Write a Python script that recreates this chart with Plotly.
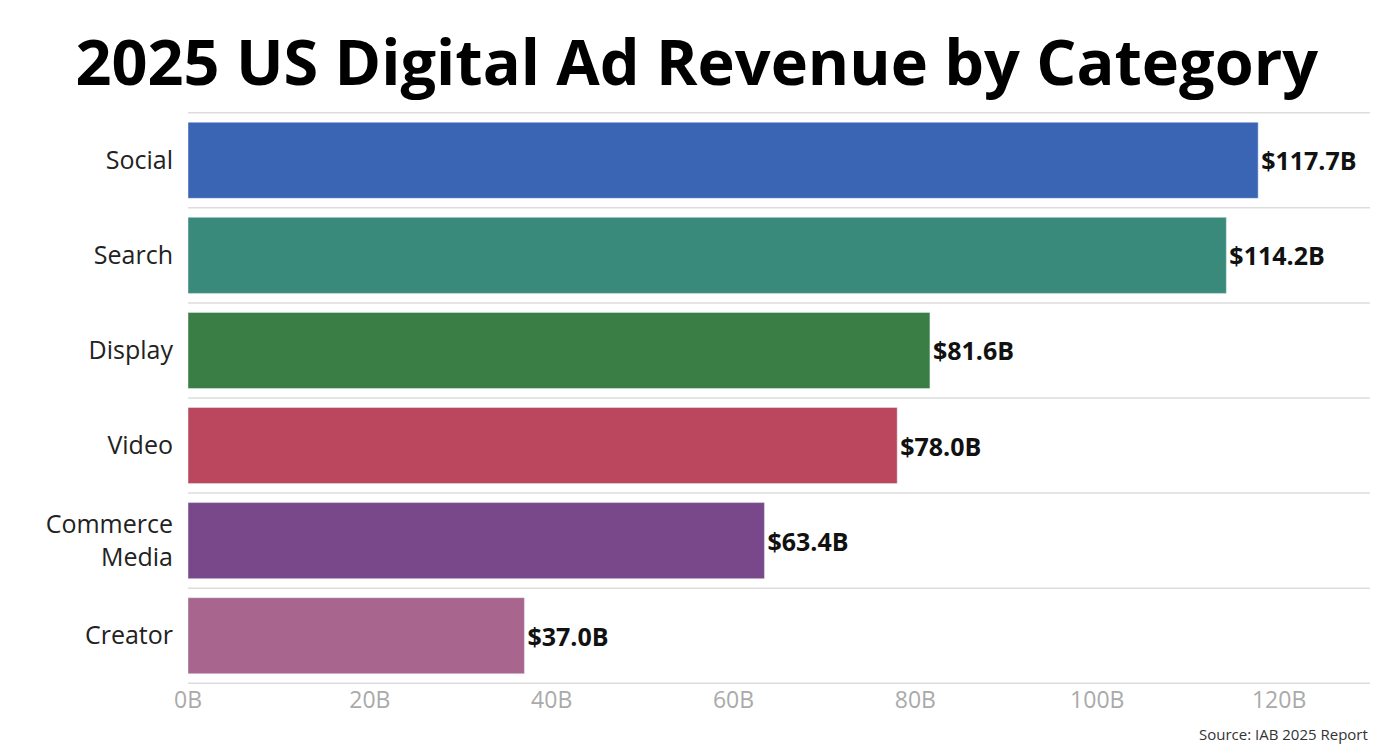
import plotly.graph_objects as go

categories = ["Social", "Search", "Display", "Video", "Commerce<br>Media", "Creator"]
values = [117.7, 114.2, 81.6, 78.0, 63.4, 37.0]
labels = ["$117.7B", "$114.2B", "$81.6B", "$78.0B", "$63.4B", "$37.0B"]
colors = ["#3A65B4", "#3A8A7B", "#3A7E45", "#BB475E", "#78488A", "#A8658E"]
tick_vals = [0, 20, 40, 60, 80, 100, 120]
tick_text = ["0B", "20B", "40B", "60B", "80B", "100B", "120B"]

fig = go.Figure(go.Bar(
    y=categories, x=values, orientation="h", marker_color=colors,
    text=labels, textposition="outside", cliponaxis=False,
    textfont=dict(family="Open Sans", size=25, color="#111"),
    texttemplate="<b>%{text}</b>",
))
shapes = [dict(type="line", xref="paper", yref="y", x0=0, x1=1, y0=i - 0.5, y1=i - 0.5,
               line=dict(color="#dddddd", width=1.5), layer="below") for i in range(len(categories) + 1)]
fig.update_layout(
    width=1364, height=736, margin=dict(l=180, r=2, t=104, b=60),
    plot_bgcolor="white", paper_bgcolor="white", bargap=0.2, shapes=shapes,
    title=dict(text="<b>2025 US Digital Ad Revenue by Category</b>", x=0.505, xanchor="center",
               y=0.925, yanchor="middle", font=dict(family="Open Sans", size=63, color="#000")),
    xaxis=dict(range=[0, 130], tickvals=tick_vals, ticktext=tick_text, showgrid=False,
               zeroline=False, tickfont=dict(family="Open Sans", size=23, color="#aaaaaa"),
               ticks="", automargin=False),
    yaxis=dict(autorange="reversed", showgrid=False, ticks="outside", ticklen=9, tickcolor="white",
               automargin=False, tickfont=dict(family="Open Sans", size=25, color="#222")),
    annotations=[dict(text="Source: IAB 2025 Report", xref="paper", yref="paper", x=1, y=-0.087,
                      xanchor="right", yanchor="middle", showarrow=False,
                      font=dict(family="Open Sans", size=15, color="#333"))],
)
fig.write_html("out.html")
